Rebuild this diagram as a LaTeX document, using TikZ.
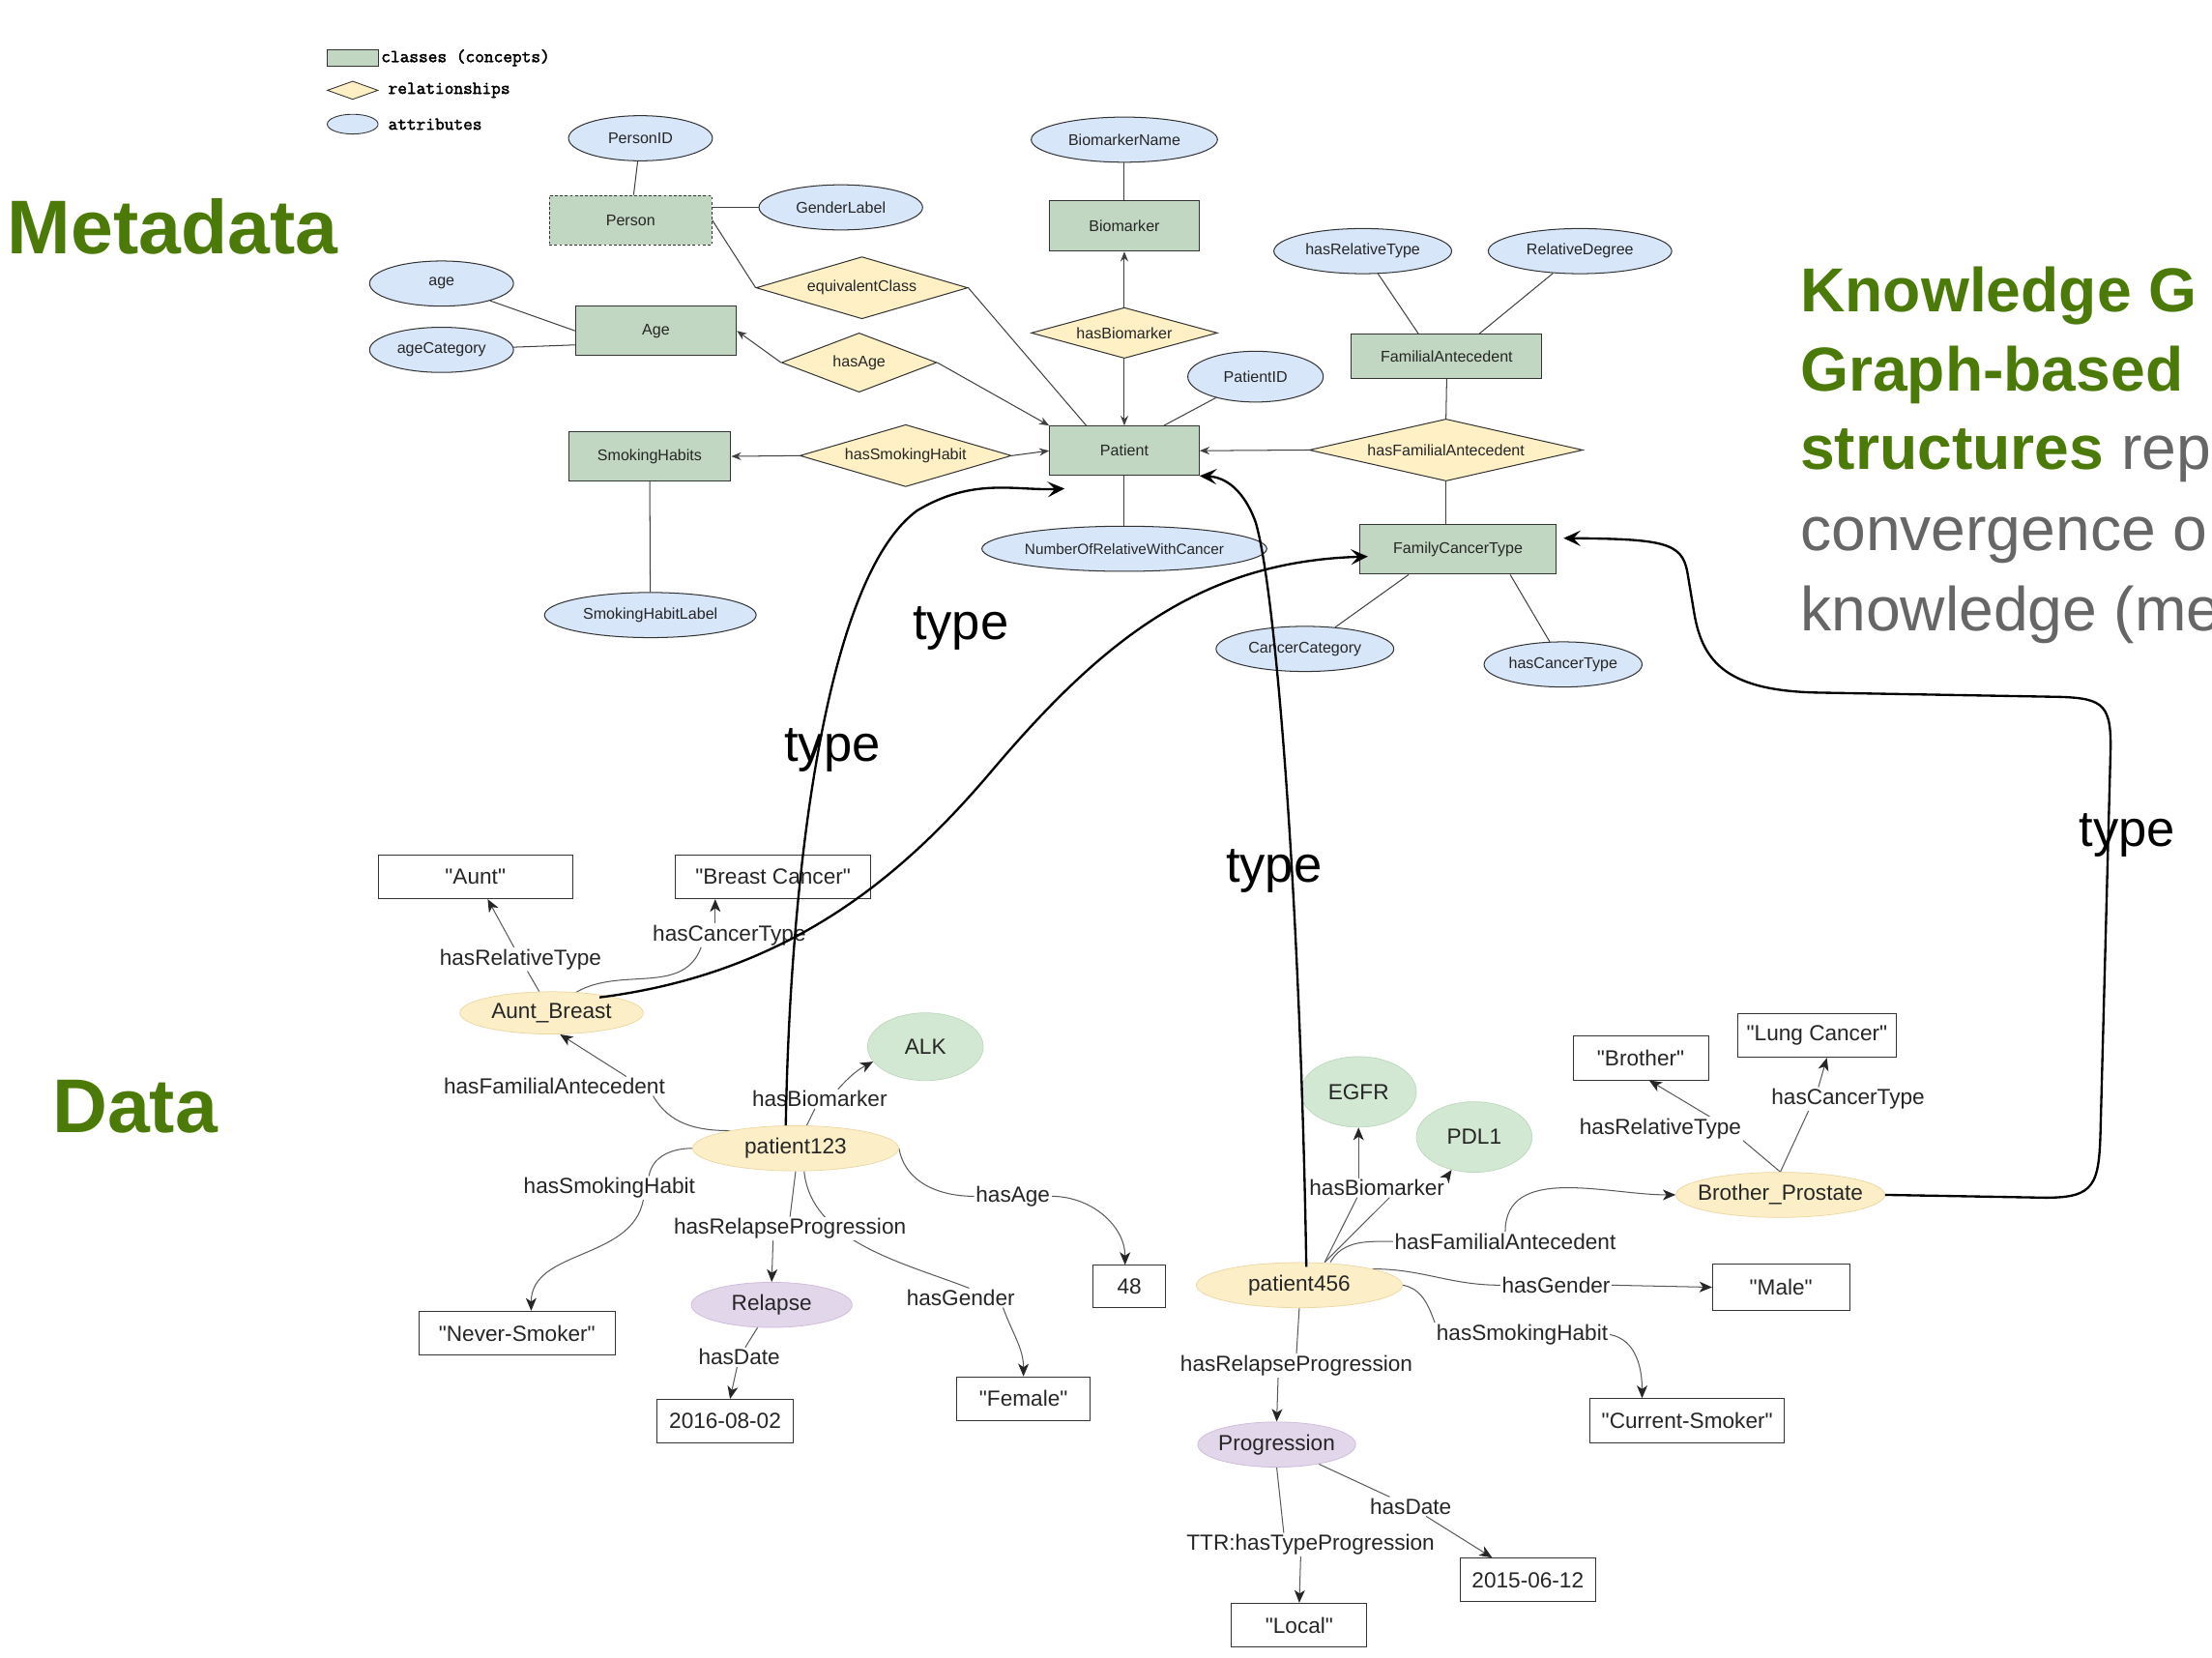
\documentclass[tikz,border=0pt]{standalone}
\usepackage{fontspec}
\setmainfont{Liberation Sans}[Ligatures=TeXOff]
\newfontfamily\legfont{Latin Modern Mono}[FakeBold=2.2]
\usetikzlibrary{shapes.geometric,arrows.meta,backgrounds}
\definecolor{clsgreen}{HTML}{C2D7C2}
\definecolor{relyel}{HTML}{FFF0C6}
\definecolor{attblue}{HTML}{D8E6FA}
\definecolor{datyel}{HTML}{FCEFC8}
\definecolor{datyelb}{HTML}{EAD7A2}
\definecolor{datgreen}{HTML}{D2E8D2}
\definecolor{datgreenb}{HTML}{BCD9BC}
\definecolor{datpurple}{HTML}{E2D6EB}
\definecolor{datpurpleb}{HTML}{CDBBD9}
\definecolor{titlegreen}{HTML}{4B7A09}
\definecolor{bodygray}{HTML}{666666}
\begin{document}
\begin{tikzpicture}[x=1pt,y=-1pt,
  erfont/.style={font=\fontsize{11}{13}\selectfont, text=black!85},
  dfont/.style={font=\fontsize{15.5}{18}\selectfont, text=black!85},
  cls/.style={rectangle, erfont, draw=black!80, fill=clsgreen, line width=0.7pt, minimum width=#1, minimum height=35pt, inner sep=0pt},
  att/.style={ellipse, erfont, draw=black!80, fill=attblue, line width=0.7pt, minimum width=#1, minimum height=32pt, inner sep=0pt},
  rel/.style={diamond, erfont, draw=black!80, fill=relyel, line width=0.7pt, aspect=3.5, inner sep=0pt},
  erline/.style={draw=black!75, line width=0.7pt},
  erarr/.style={erline, -{Stealth[length=7pt,width=5.5pt]}},
  lit/.style={rectangle, dfont, draw=black!80, fill=white, line width=0.7pt, minimum width=#1, minimum height=31pt, inner sep=0pt},
  inst/.style={ellipse, dfont, fill=datyel, draw=datyelb, line width=0.5pt, minimum width=#1, minimum height=32pt, inner xsep=-10pt, inner ysep=0pt},
  bio/.style={ellipse, dfont, fill=datgreen, draw=datgreenb, line width=0.5pt, minimum width=82pt, minimum height=50pt, inner sep=0pt},
  evt/.style={ellipse, dfont, fill=datpurple, draw=datpurpleb, line width=0.5pt, minimum width=#1, minimum height=32pt, inner xsep=-10pt, inner ysep=0pt},
  dlab/.style={dfont, fill=white, inner sep=1pt},
  dedge/.style={draw=black!65, line width=0.7pt},
  darr/.style={dedge, -{Stealth[length=9pt,width=7.5pt,inset=2.5pt,color=black!85]}},
  typearr/.style={draw=black, line width=1.6pt, -{Stealth[length=12pt,width=11pt,inset=5pt]}},
  typelab/.style={font=\fontsize{36}{40}\selectfont, anchor=base, inner sep=0pt},
  legtext/.style={font=\fontsize{12.9}{15}\legfont\selectfont, anchor=west, inner sep=0pt}
]
\useasboundingbox (0,0) rectangle (1568,1175);

% ---------- legend ----------
\node[draw=black!80, fill=clsgreen, minimum width=36pt, minimum height=12pt, inner sep=0pt, line width=0.6pt] (lgc) at (250,41) {};
\node[legtext] (lgct) at (270,41) {classes (concepts)};
\node[diamond, draw=black!80, fill=relyel, minimum width=36pt, minimum height=13pt, inner sep=0pt, line width=0.6pt] (lgr) at (250,64) {};
\node[legtext] (lgrt) at (275,64) {relationships};
\node[ellipse, draw=black!80, fill=attblue, minimum width=36pt, minimum height=14pt, inner sep=0pt, line width=0.6pt] (lga) at (250,88) {};
\node[legtext] (lgat) at (275,88) {attributes};

% ---------- titles ----------
\node[anchor=base west, inner sep=0pt, font=\fontsize{54}{60}\bfseries\selectfont, text=titlegreen] (meta) at (5,180) {Metadata};
\node[anchor=base west, inner sep=0pt, font=\fontsize{54}{60}\bfseries\selectfont, text=titlegreen] (datat) at (37,803) {Data};
\begin{scope}
\clip (0,0) rectangle (1568,1175);
\node[anchor=base west, inner sep=0pt, font=\fontsize{44}{50}\bfseries\selectfont, text=titlegreen] (kg1) at (1276,221) {Knowledge G};
\node[anchor=base west, inner sep=0pt, font=\fontsize{44}{50}\bfseries\selectfont, text=titlegreen] (kg2) at (1276,277) {Graph-based};
\node[anchor=base west, inner sep=0pt, font=\fontsize{44}{50}\bfseries\selectfont, text=titlegreen] (kg3) at (1276,333) {structures {\mdseries\color{bodygray}rep}};
\node[anchor=base west, inner sep=0pt, font=\fontsize{44}{50}\selectfont, text=bodygray] (kg4) at (1276,390) {convergence o};
\node[anchor=base west, inner sep=0pt, font=\fontsize{44}{50}\selectfont, text=bodygray] (kg5) at (1276,447) {knowledge (me};
\end{scope}

% ---------- ER (metadata) ----------
\node[att=102] (personid) at (454,98) {PersonID};
\node[cls=115, dash pattern=on 2pt off 1.5pt] (person) at (447,156) {Person};
\node[att=116] (genderlabel) at (596,147) {GenderLabel};
\node[rel, minimum width=150pt, minimum height=44pt] (equiv) at (611,204) {equivalentClass};
\node[att=102] (age) at (313,201) {age};
\node[att=102] (agecat) at (313,248) {ageCategory};
\node[cls=114] (agebox) at (465,234.5) {Age};
\node[rel, minimum width=110pt, minimum height=42pt] (hasage) at (609,257) {hasAge};
\node[cls=115] (smoking) at (460.5,323.5) {SmokingHabits};
\node[rel, minimum width=150pt, minimum height=44pt] (hsh) at (642,323) {hasSmokingHabit};
\node[att=150] (smokinglabel) at (461,436) {SmokingHabitLabel};
\node[att=132] (biomarkername) at (797,99) {BiomarkerName};
\node[cls=106, minimum height=36pt] (biomarker) at (797,160) {Biomarker};
\node[rel, minimum width=132pt, minimum height=36pt] (hasbio) at (797,236) {hasBiomarker};
\node[cls=106] (patient) at (797,319.5) {Patient};
\node[att=96, minimum height=36pt] (patientid) at (890,267) {PatientID};
\node[att=202, font=\fontsize{10.5}{12}\selectfont] (numrel) at (797,389) {NumberOfRelativeWithCancer};
\node[att=126] (hasreltype) at (966,178) {hasRelativeType};
\node[att=130] (reldegree) at (1120,178) {RelativeDegree};
\node[cls=135, minimum height=31pt] (famant) at (1025.5,252.5) {FamilialAntecedent};
\node[rel, minimum width=194pt, minimum height=44pt] (hfa) at (1025,319) {hasFamilialAntecedent};
\node[cls=139] (fct) at (1033.5,389.5) {FamilyCancerType};
\node[att=126] (cancercat) at (925,460) {CancerCategory};
\node[att=112] (hascancertype) at (1108,471) {hasCancerType};

\draw[erline] (personid) -- (person);
\draw[erline] ([yshift=9pt]person.east) -- (genderlabel.west);
\draw[erline] (person.east) -- (equiv.west);
\draw[erline] (equiv.east) -- ([xshift=-27pt]patient.north);
\draw[erline] (age) -- (agebox.west);
\draw[erline] (agecat) -- ([yshift=-10pt]agebox.west);
\draw[erarr] (hasage.west) -- (agebox.east);
\draw[erarr] (hasage.east) -- (patient.north west);
\draw[erarr] (hsh.west) -- (smoking.east);
\draw[erarr] (hsh.east) -- (patient.west);
\draw[erline] (smoking) -- (smokinglabel);
\draw[erline] (biomarkername) -- (biomarker);
\draw[erarr] (hasbio.north) -- (biomarker.south);
\draw[erarr] (hasbio.south) -- (patient.north);
\draw[erline] (patientid) -- ([xshift=28pt]patient.north);
\draw[erline] (patient) -- (numrel);
\draw[erarr] (hfa.west) -- (patient.east);
\draw[erline] (famant.south) -- (hfa.north);
\draw[erline] (hfa.south) -- (hfa.south |- fct.north);
\draw[erline] (hasreltype) -- ([xshift=-20pt]famant.north);
\draw[erline] (reldegree) -- ([xshift=23pt]famant.north);
\draw[erline] ([xshift=-35pt]fct.south) -- (cancercat);
\draw[erline] ([xshift=37pt]fct.south) -- (hascancertype);

% ---------- data ----------
\node[lit=138] (aunt) at (337,621.5) {"Aunt"};
\node[lit=138] (breast) at (548,621.5) {"Breast Cancer"};
\node[inst=130, minimum height=30pt] (ab) at (391,718) {Aunt\_Breast};
\node[bio, minimum height=48pt] (alk) at (656,742) {ALK};
\node[inst=146] (p123) at (564,814) {patient123};
\node[lit=139] (never) at (366.5,945) {"Never-Smoker"};
\node[evt=114] (relapse) at (547,925) {Relapse};
\node[lit=96] (date1) at (514,1007.5) {2016-08-02};
\node[lit=95] (female) at (725.5,991.5) {"Female"};
\node[lit=51, minimum height=30pt] (fortyeight) at (800.5,912) {48};
\node[bio] (egfr) at (963,774) {EGFR};
\node[bio] (pdl1) at (1045,806) {PDL1};
\node[inst=146] (p456) at (921,911) {patient456};
\node[lit=96] (brother) at (1163,750) {"Brother"};
\node[lit=112] (lung) at (1288,734) {"Lung Cancer"};
\node[inst=148] (bp) at (1262,847) {Brother\_Prostate};
\node[lit=97, minimum height=33pt] (male) at (1262.5,912.5) {"Male"};
\node[lit=138] (current) at (1196,1007) {"Current-Smoker"};
\node[evt=112] (prog) at (905,1024) {Progression};
\node[lit=96] (local) at (921,1152) {"Local"};
\node[lit=96] (date2) at (1083,1120) {2015-06-12};

\node[dlab] (l1) at (369,680) {hasRelativeType};
\node[dlab] (l2) at (517,663) {hasCancerType};
\node[dlab] (l3) at (393,770) {hasFamilialAntecedent};
\node[dlab] (l4) at (581,779) {hasBiomarker};
\node[dlab] (l5) at (432,842) {hasSmokingHabit};
\node[dlab] (l6) at (560,871) {hasRelapseProgression};
\node[dlab] (l7) at (681,920) {hasGender};
\node[dlab] (l8) at (718,848) {hasAge};
\node[dlab] (l9) at (524,962) {hasDate};
\node[dlab] (l10) at (976,842) {hasBiomarker};
\node[dlab] (l11) at (1067,880) {hasFamilialAntecedent};
\node[dlab] (l12) at (1103,911) {hasGender};
\node[dlab] (l13) at (1079,946) {hasSmokingHabit};
\node[dlab] (l14) at (919,968) {hasRelapseProgression};
\node[dlab] (l15) at (929,1095) {TTR:hasTypeProgression};
\node[dlab] (l16) at (1000,1068) {hasDate};
\node[dlab] (l17) at (1177,800) {hasRelativeType};
\node[dlab] (l18) at (1310,779) {hasCancerType};

\begin{scope}[on background layer]
\draw[dedge] (ab) -- (l1);
\draw[darr] (l1) -- (aunt);
\draw[dedge] (ab.40) to[out=30,in=-110] ([xshift=-20pt]l2.south);
\draw[darr] ([xshift=-10pt]l2.north) -- ([xshift=-41pt]breast.south);
\draw[dedge] (p123.165) to[out=180,in=-60] ([xshift=70pt]l3.south);
\draw[darr] ([xshift=51pt]l3.north) -- ([xshift=6pt]ab.south);
\draw[dedge] (p123) -- (l4);
\draw[darr] ([xshift=13pt]l4.north) to[bend left=10] (alk);
\draw[dedge] (p123.west) to[out=180,in=80] ([xshift=28pt]l5.north);
\draw[darr] ([xshift=24pt]l5.south) to[out=-100,in=90] ([xshift=10pt]never.north);
\draw[dedge] (p123.south) -- (l6.north);
\draw[dedge] ([xshift=6pt]p123.south) .. controls (575,880) and (640,895) .. ([xshift=6pt]l7.north);
\draw[darr] ([xshift=-12pt]l6.south) -- (relapse.north);
\draw[darr] ([xshift=30pt]l7.south) to[out=-70,in=90] (female.north);
\draw[dedge] (p123.east) to[out=-80,in=180] (l8.west);
\draw[darr] (l8.east) to[out=0,in=90] ([xshift=-3pt]fortyeight.north);
\draw[dedge] (relapse) -- (l9);
\draw[darr] (l9) -- (date1);
\draw[dedge] ([xshift=18pt]p456.north) -- ([xshift=-14pt]l10.south);
\draw[dedge] ([xshift=18pt]p456.north) -- ([xshift=9pt]l10.south);
\draw[darr] ([xshift=-13pt]l10.north) -- (egfr);
\draw[darr] (l10.north east) -- (pdl1);
\draw[dedge] ([xshift=22pt]p456.north) to[out=60,in=180] (l11.west);
\draw[darr] (l11.north) to[out=90,in=180] (bp.west);
\draw[dedge] (p456.north east) to[out=0,in=180] (l12.west);
\draw[darr] (l12.east) -- (male.west);
\draw[dedge] (p456.east) to[out=-10,in=110] (l13.north west);
\draw[darr] (l13.east) to[out=-10,in=90] ([xshift=-32pt]current.north);
\draw[dedge] (p456.south) -- (l14.north);
\draw[darr] ([xshift=-13pt]l14.south) -- (prog.north);
\draw[dedge] (prog.south) -- ([xshift=-19pt]l15.north);
\draw[darr] ([xshift=-7pt]l15.south) -- (local.north);
\draw[dedge] (prog) -- (l16);
\draw[darr] (l16) -- (date2);
\draw[dedge] (bp.north) -- (l17.south east);
\draw[darr] ([xshift=35pt]l17.north) -- ([xshift=6pt]brother.south);
\draw[dedge] (bp.north) -- ([xshift=-28pt]l18.south);
\draw[darr] ([xshift=-21pt]l18.north) -- ([xshift=7pt]lung.south);
\end{scope}

% ---------- type arrows ----------
\draw[typearr] ([xshift=-7pt]p123.north) .. controls (560,620) and (585,410) .. (650,362) .. controls (690,338) and (720,348) .. ([xshift=11pt,yshift=-9pt]patient.south west);
\draw[typearr] ([xshift=34pt,yshift=11pt]ab.center) .. controls (560,690) and (640,620) .. (700,550) .. controls (780,455) and (850,398) .. ([xshift=6pt,yshift=-5pt]fct.west);
\draw[typearr] ([xshift=5pt,yshift=13pt]p456.center) .. controls (922,650) and (905,420) .. (890,370) .. controls (880,343) and (865,338) .. (patient.south east);
\draw[typearr] (bp.east) -- (1450,849) .. controls (1485,849) and (1488,840) .. (1489,800) -- (1496,535) .. controls (1497,500) and (1492,495) .. (1460,494) -- (1290,491) .. controls (1225,490) and (1207,470) .. (1201,435) -- (1196,405) .. controls (1192,385) and (1180,382) .. ([xshift=5pt,yshift=8pt]fct.east);

\node[typelab] (t1) at (681,453) {type};
\node[typelab] (t2) at (590,540) {type};
\node[typelab] (t3) at (903,625) {type};
\node[typelab] (t4) at (1508,600) {type};
\end{tikzpicture}
\end{document}
